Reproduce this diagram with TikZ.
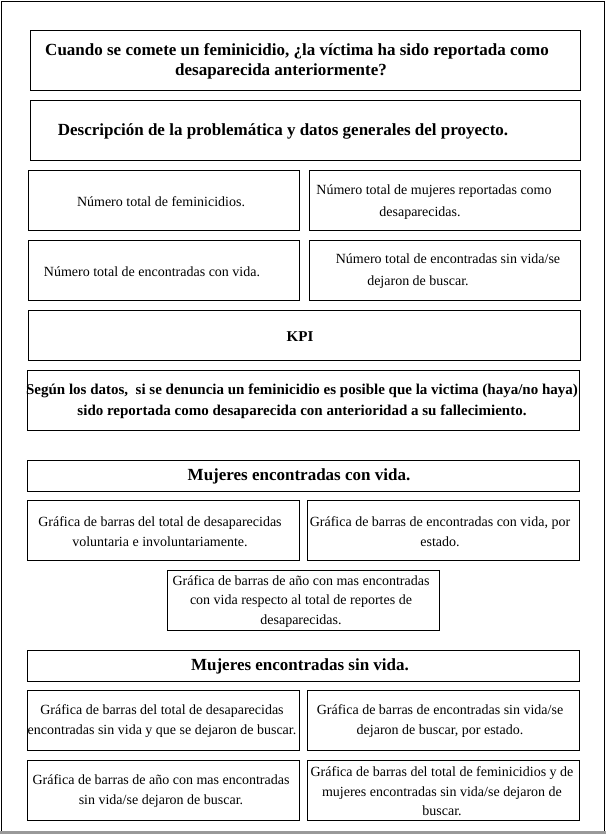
\documentclass[tikz,border=0pt]{standalone}
\usepackage{fontspec}
\setmainfont{Liberation Serif}
\begin{document}
\begin{tikzpicture}[x=1pt,y=-1pt,
  box/.style={draw, line width=0.9pt, inner sep=0pt, anchor=north west},
  txt/.style={align=center, inner sep=0pt, yshift=-1.5pt, font=\fontsize{14}{20}\selectfont},
  txtb/.style={align=center, inner sep=0pt, yshift=-1.5pt, font=\bfseries\fontsize{15}{21}\selectfont},
  hdr/.style={align=center, inner sep=0pt, yshift=-1.5pt, font=\bfseries\fontsize{17}{20}\selectfont}]
\useasboundingbox (0,0) rectangle (606,834);
% outer frame
\node[draw, line width=0.9pt, inner sep=0pt, anchor=north west, minimum width=603pt, minimum height=831pt] (frame) at (1,1) {};
\fill[gray!80] (0,831) rectangle (606,834);
% boxes
\node[box, minimum width=550pt, minimum height=60pt] (b1) at (30,30) {};
\node[box, minimum width=550pt, minimum height=60pt] (b2) at (30,100) {};
\node[box, minimum width=271pt, minimum height=60pt] (b3) at (28,170) {};
\node[box, minimum width=271pt, minimum height=60pt] (b4) at (309,170) {};
\node[box, minimum width=271pt, minimum height=60pt] (b5) at (28,240) {};
\node[box, minimum width=271pt, minimum height=60pt] (b6) at (309,240) {};
\node[box, minimum width=552pt, minimum height=50pt] (kpi) at (28,310) {};
\node[box, minimum width=552pt, minimum height=60pt] (seg) at (27,370) {};
\node[box, minimum width=552pt, minimum height=31pt] (h1) at (27,460) {};
\node[box, minimum width=272pt, minimum height=60pt] (g1) at (27,500) {};
\node[box, minimum width=272pt, minimum height=60pt] (g2) at (307,500) {};
\node[box, minimum width=272pt, minimum height=60pt] (g3) at (167,570) {};
\node[box, minimum width=552pt, minimum height=31pt] (h2) at (27,650) {};
\node[box, minimum width=272pt, minimum height=60pt] (s1) at (27,690) {};
\node[box, minimum width=272pt, minimum height=60pt] (s2) at (307,690) {};
\node[box, minimum width=272pt, minimum height=60pt] (s3) at (27,760) {};
\node[box, minimum width=272pt, minimum height=60pt] (s4) at (307,760) {};
% texts
\node[hdr] (t1) at (297,60) {Cuando se comete un feminicidio, ¿la víctima ha sido reportada como\\\hspace*{-32pt}desaparecida anteriormente?};
\node[hdr] (t2) at (283,130) {Descripción de la problemática y datos generales del proyecto.};
\node[txt] (t3) at (161,200) {Número total de feminicidios.};
\node[txt, font=\fontsize{14}{22}\selectfont] (t4) at (434,201) {Número total de mujeres reportadas como\\\hspace*{-28pt}desaparecidas.};
\node[txt] (t5) at (152,270) {Número total de encontradas con vida.};
\node[txt, font=\fontsize{14}{22}\selectfont] (t6) at (448,270) {Número total de encontradas sin vida/se\\\hspace*{-60pt}dejaron de buscar.};
\node[txtb] (tk) at (300,335) {KPI};
\node[txtb] (ts) at (302,400) {Según los datos,\ \ si se denuncia un feminicidio es posible que la victima (haya/no haya)\\sido reportada como desaparecida con anterioridad a su fallecimiento.};
\node[hdr] (th1) at (299,475) {Mujeres encontradas con vida.};
\node[txt] (tg1) at (160,530) {Gráfica de barras del total de desaparecidas\\voluntaria e involuntariamente.};
\node[txt] (tg2) at (440,530) {Gráfica de barras de encontradas con vida, por\\estado.};
\node[txt, font=\fontsize{14}{19.5}\selectfont] (tg3) at (301,600) {Gráfica de barras de año con mas encontradas\\con vida respecto al total de reportes de\\desaparecidas.};
\node[hdr] (th2) at (300,665) {Mujeres encontradas sin vida.};
\node[txt] (ts1) at (162,720) {Gráfica de barras del total de desaparecidas\\encontradas sin vida y que se dejaron de buscar.};
\node[txt] (ts2) at (440,720) {Gráfica de barras de encontradas sin vida/se\\dejaron de buscar, por estado.};
\node[txt] (ts3) at (161,790) {Gráfica de barras de año con mas encontradas\\sin vida/se dejaron de buscar.};
\node[txt, font=\fontsize{14}{19.5}\selectfont] (ts4) at (442,790) {Gráfica de barras del total de feminicidios y de\\mujeres encontradas sin vida/se dejaron de\\buscar.};
\end{tikzpicture}
\end{document}
